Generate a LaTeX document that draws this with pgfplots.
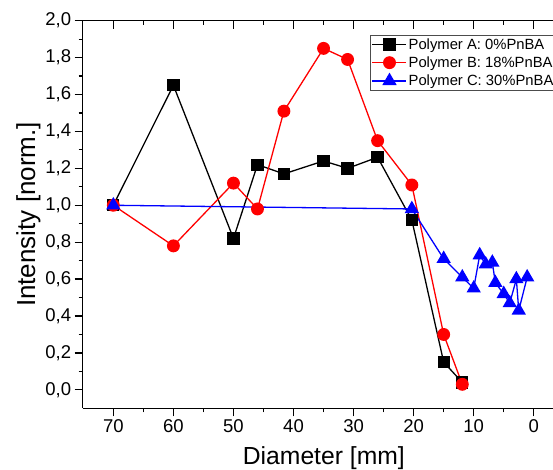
\documentclass[border=0pt]{standalone}
\usepackage{fontspec}
\setmainfont{Liberation Sans}
\usepackage{pgfplots}
\pgfplotsset{compat=1.18}

\definecolor{cA}{HTML}{000000}
\definecolor{cB}{HTML}{FF0000}
\definecolor{cC}{HTML}{0000FF}

\begin{document}
\begin{tikzpicture}
\pgfplotsset{
  every axis/.append style={
    width=470.3pt, height=387.6pt, scale only axis,
    x dir=reverse, xmin=-3.2, xmax=75.1, ymin=-0.1, ymax=2.0,
    xtick={0,10,...,70}, minor x tick num=1,
    ytick={0,0.2,...,2.0}, minor y tick num=1,
    major tick length=8pt, minor tick length=4pt,
    every tick/.style={black, line width=1.2pt},
    axis line style={line width=1.3pt},
    /pgf/number format/assume math mode=true,
    tick label style={font=\fontsize{18.5}{20}\selectfont},
  },
}
\begin{axis}[
  axis x line*=bottom, axis y line*=left, tick align=outside,
  yticklabel style={/pgf/number format/.cd, fixed, fixed zerofill, precision=1, use comma},
  xlabel={Diameter [mm]}, ylabel={Intensity [norm.]},
  xlabel style={font=\fontsize{24.7}{26}\selectfont, xshift=6pt, yshift=-7pt},
  ylabel style={font=\fontsize{26}{28}\selectfont, yshift=-2pt},
  clip=false,
  legend cell align=left,
  legend style={at={(0.611,0.963)}, anchor=north west, draw=black!70, line width=0.6pt,
    font=\fontsize{14.8}{15}\selectfont, inner sep=1.5pt, row sep=3pt,
    nodes={inner sep=1.5pt}},
  legend image code/.code={%
    \draw[mark repeat=2, mark phase=2] plot coordinates {(0pt,0pt) (17pt,0pt) (34pt,0pt)};},
  every axis plot/.append style={line width=1.3pt},
]
\addplot[cA, mark=square*, mark size=5.5pt, mark options={solid}]
  coordinates {(70,1.0)(60,1.65)(50,0.82)(46,1.22)(41.6,1.17)(35,1.24)(31,1.20)(26,1.26)(20.3,0.92)(15,0.15)(11.9,0.04)};
\addplot[cB, mark=*, mark size=5.8pt]
  coordinates {(70,1.0)(60,0.78)(50,1.12)(46,0.98)(41.6,1.51)(35,1.85)(31,1.79)(26,1.35)(20.3,1.11)(15,0.30)(11.9,0.03)};
\addplot[cC, mark=triangle*, mark size=7pt]
  coordinates {(70,1.0)(20.3,0.98)(15,0.71)(11.9,0.61)(10,0.55)(9,0.73)(8,0.68)(6.9,0.69)(6.4,0.58)(5,0.52)(4,0.47)(2.9,0.60)(2.5,0.43)(1.1,0.61)};
\legend{Polymer A: 0\%PnBA, Polymer B: 18\%PnBA, Polymer C: 30\%PnBA}
\coordinate (bl) at (rel axis cs:0,0);
\coordinate (tr) at (rel axis cs:1,1);
\end{axis}
\begin{axis}[
  axis x line*=top, axis y line=none, tick align=inside,
  xticklabels={}, yticklabels={},
]
\end{axis}
\pgfresetboundingbox
\path[use as bounding box] ([xshift=-82.7pt,yshift=-61.7pt]bl) rectangle ([yshift=20.7pt]tr);
\end{tikzpicture}
\end{document}
